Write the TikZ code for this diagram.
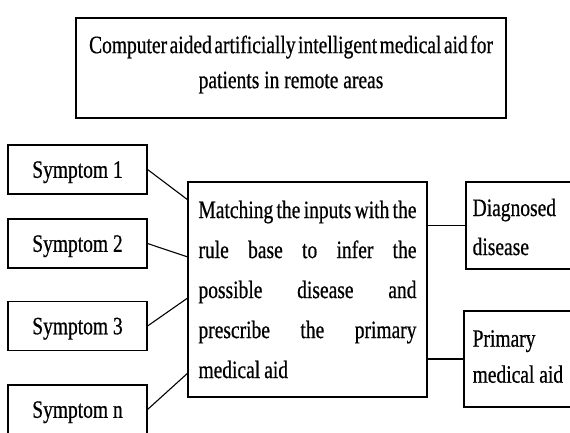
\documentclass[tikz,border=0pt]{standalone}
\usepackage{fontspec}
\setmainfont[FakeStretch=0.78,FakeBold=0.6]{Liberation Serif}
\usetikzlibrary{calc}

% one justified line of the central box
\newcommand\jline[1]{\leavevmode\hbox to 218pt{\spaceskip=2pt plus 1fil\relax #1}}

\begin{document}
\begin{tikzpicture}[x=1pt,y=-1pt,
    every node/.style={font=\fontsize{25}{40}\selectfont},
    box/.style={draw, line width=1.1pt, rectangle, inner sep=0pt},
    inbox/.style={box, minimum width=139, minimum height=49, text depth=0pt},
    label text/.style={inner sep=0pt, align=left, anchor=north west},
    link/.style={line width=1.1pt}]
  \clip (0,0) rectangle (570,432);
  \useasboundingbox (0,0) rectangle (570,432);

  % title
  \node[box, minimum width=430, minimum height=100] (title) at (291,68) {};
  \node[align=center, inner sep=0pt, font=\fontsize{25}{35}\selectfont] (titletext) at (291,64.5)
    {{\spaceskip=2.5pt plus 1pt\relax Computer aided artificially intelligent medical aid for}\\
     patients in remote areas};

  % inputs
  \node[inbox] (s1) at (77.5,169.5) {Symptom 1};
  \node[inbox] (s2) at (77.5,243.5) {Symptom 2};
  \node[inbox] (s3) at (77.5,326) {Symptom 3};
  \node[inbox] (sn) at (77.5,409.5) {Symptom n};

  % inference box
  \node[box, minimum width=239, minimum height=215, text width=218pt, align=left] (main) at (307.5,289.5)
    {\jline{Matching the inputs with the}\\
     \jline{rule base to infer the}\\
     \jline{possible disease and}\\
     \jline{prescribe the primary}\\
     \leavevmode\hbox{\spaceskip=4pt\relax medical aid}};

  % outputs
  \node[box, minimum width=130, minimum height=87] (diag) at (531,225.5) {};
  \node[label text, font=\fontsize{25}{39}\selectfont] (diagtext) at ($(diag.north west)+(7,17)$)
    {Diagnosed\\disease};
  \node[box, minimum width=130, minimum height=96] (prim) at (529,359) {};
  \node[label text, font=\fontsize{25}{36}\selectfont] (primtext) at ($(prim.north west)+(9,19.5)$)
    {Primary\\medical aid};

  % connectors
  \draw[link] (s1.east) -- ($(main.north west)!0.084!(main.south west)$);
  \draw[link] (s2.east) -- ($(main.north west)!0.349!(main.south west)$);
  \draw[link] (s3.east) -- ($(main.north west)!0.540!(main.south west)$);
  \draw[link] (sn.east) -- ($(main.north west)!0.888!(main.south west)$);
  \draw[link] (diag.west -| main.east) -- (diag.west);
  \draw[link] (prim.west -| main.east) -- (prim.west);
\end{tikzpicture}
\end{document}
